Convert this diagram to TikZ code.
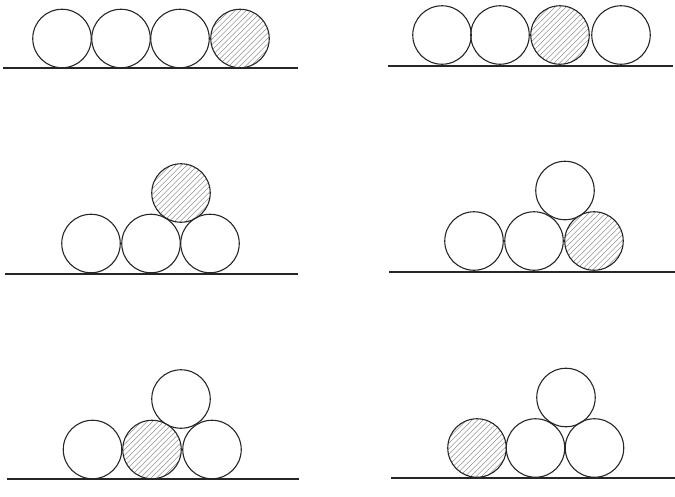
\documentclass[tikz,border=0pt]{standalone}
\begin{document}
\begin{tikzpicture}[x=1pt,y=-1pt,
  ball/.style={circle,draw=black!85,line width=1.1pt,minimum size=58.5pt,inner sep=0pt},
  hatched/.style={ball,path picture={
      \begin{scope}[shift={(path picture bounding box.center)}]
        \foreach \k in {-10,...,10}
          \draw[black!55,line width=0.35pt] (\k*5.5-40,40) -- (\k*5.5+40,-40);
      \end{scope}}},
  ground/.style={line width=1.6pt,black!85}]
\useasboundingbox (0,0) rectangle (675,496);
% panel 1
\node[ball] (a1) at (62,38.5) {};
\node[ball] (a2) at (121,38.5) {};
\node[ball] (a3) at (180,38.5) {};
\node[hatched] (a4) at (240,38.5) {};
\coordinate (ga1) at (3,68); \coordinate (ga2) at (298,68);
\draw[ground] (ga1) -- (ga2);
% panel 2
\node[ball] (b1) at (442,35) {};
\node[ball] (b2) at (500,35) {};
\node[hatched] (b3) at (560,35) {};
\node[ball] (b4) at (621,35) {};
\coordinate (gb1) at (388,66); \coordinate (gb2) at (673,66);
\draw[ground] (gb1) -- (gb2);
% panel 3
\node[ball] (c1) at (91,243.5) {};
\node[ball] (c2) at (151,243.5) {};
\node[ball] (c3) at (210,243.5) {};
\node[hatched] (c4) at (181,193) {};
\coordinate (gc1) at (5,274); \coordinate (gc2) at (298,274);
\draw[ground] (gc1) -- (gc2);
% panel 4
\node[ball] (d1) at (474,241) {};
\node[ball] (d2) at (534,241) {};
\node[hatched] (d3) at (594,241) {};
\node[ball] (d4) at (565,190.5) {};
\coordinate (gd1) at (389,272); \coordinate (gd2) at (675,272);
\draw[ground] (gd1) -- (gd2);
% panel 5
\node[ball] (e1) at (92.5,449.5) {};
\node[hatched] (e2) at (152,449.5) {};
\node[ball] (e3) at (212,449.5) {};
\node[ball] (e4) at (181,399) {};
\coordinate (ge1) at (7,479); \coordinate (ge2) at (299,479);
\draw[ground] (ge1) -- (ge2);
% panel 6
\node[hatched] (f1) at (477,448) {};
\node[ball] (f2) at (535.5,448) {};
\node[ball] (f3) at (594.5,448) {};
\node[ball] (f4) at (566,397.5) {};
\coordinate (gf1) at (391,478); \coordinate (gf2) at (675,478);
\draw[ground] (gf1) -- (gf2);
\end{tikzpicture}
\end{document}
